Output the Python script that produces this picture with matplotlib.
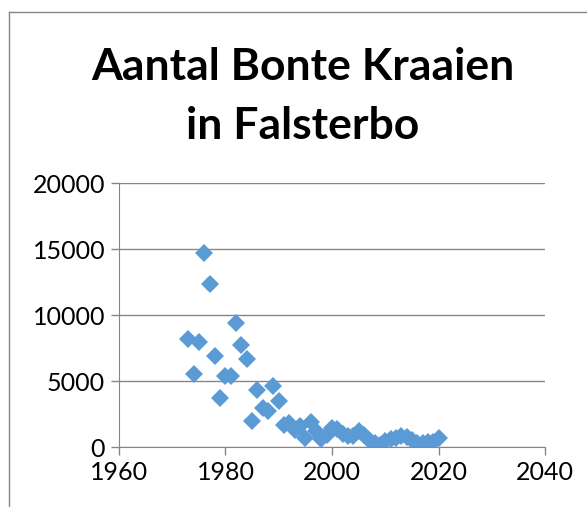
import matplotlib
matplotlib.use("Agg")
import matplotlib.pyplot as plt
from matplotlib.lines import Line2D

# yearly counts of hooded crows (Bonte Kraai) at Falsterbo
years = [1973, 1974, 1975, 1976, 1977, 1978, 1979, 1980, 1981, 1982,
         1983, 1984, 1985, 1986, 1987, 1988, 1989, 1990, 1991, 1992,
         1993, 1994, 1995, 1996, 1997, 1998, 1999, 2000, 2001, 2002,
         2003, 2004, 2005, 2006, 2007, 2008, 2009, 2010, 2011, 2012,
         2013, 2014, 2015, 2016, 2017, 2018, 2019, 2020]
counts = [8200, 5500, 7950, 14700, 12350, 6900, 3700, 5350, 5400, 9400,
          7700, 6650, 1950, 4350, 2950, 2700, 4600, 3450, 1700, 1800,
          1300, 1600, 700, 1900, 1200, 600, 900, 1450, 1400, 1000,
          850, 800, 1200, 900, 500, 300, 150, 450, 600, 650,
          800, 750, 500, 300, 300, 350, 400, 700]

xticks = [1960, 1980, 2000, 2020, 2040]
yticks = [0, 5000, 10000, 15000, 20000]

plt.rcParams["font.family"] = ["Lato", "DejaVu Sans"]

fig = plt.figure(figsize=(5.87, 5.07), dpi=100)
ax = fig.add_axes([0.2027, 0.1183, 0.7258, 0.5207])

ax.plot(years, counts, linestyle="none", marker="D", markersize=9.6,
        color="#5B9BD5", markeredgewidth=0)

ax.set_xlim(1960, 2040)
ax.set_ylim(0, 20000)
ax.set_xticks(xticks)
ax.set_yticks(yticks)
ax.tick_params(labelsize=18, length=6, width=1, color="#868686", direction="out", pad=4)
ax.grid(axis="y", color="#868686", linewidth=1)
ax.set_axisbelow(True)
for side in ("top", "right"):
    ax.spines[side].set_visible(False)
for side in ("left", "bottom"):
    ax.spines[side].set_color("#868686")

fig.text(0.516, 0.81, "Aantal Bonte Kraaien\nin Falsterbo", ha="center", va="center",
         fontsize=32, fontweight="bold", linespacing=1.58)

# chart frame (only left and top edges are inside the crop)
fig.add_artist(Line2D([9 / 587, 9 / 587], [0, 1 - 12 / 507], color="#868686", linewidth=1))
fig.add_artist(Line2D([9 / 587, 1], [1 - 12 / 507, 1 - 12 / 507], color="#868686", linewidth=1))

fig.savefig("out.png", dpi=100)
